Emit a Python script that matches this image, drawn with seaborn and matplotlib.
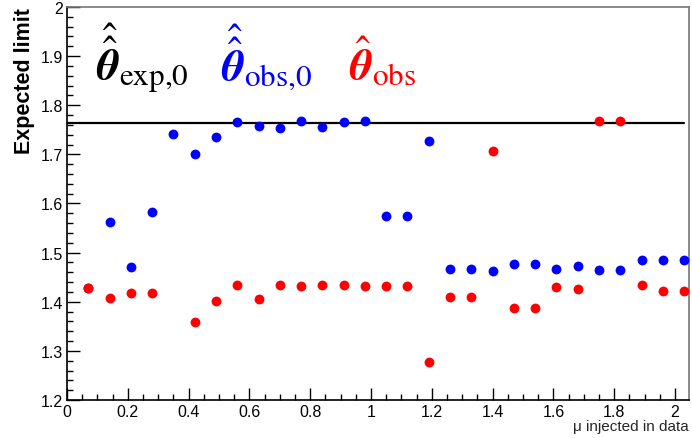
import numpy as np
import pandas as pd
import seaborn as sns
import matplotlib.pyplot as plt
from matplotlib.ticker import MultipleLocator, FuncFormatter

# mu injected in data
mu = [0.07, 0.14, 0.21, 0.28, 0.35, 0.42, 0.49, 0.56, 0.63, 0.70,
      0.77, 0.84, 0.91, 0.98, 1.05, 1.12, 1.19, 1.26, 1.33, 1.40,
      1.47, 1.54, 1.61, 1.68, 1.75, 1.82, 1.89, 1.96, 2.03]

# expected limit with theta_obs,0 (blue)
lim_obs0 = [1.429, 1.562, 1.470, 1.582, 1.742, 1.700, 1.735, 1.765, 1.757, 1.753,
            1.767, 1.755, 1.766, 1.767, 1.574, 1.574, 1.728, 1.466, 1.466, 1.463,
            1.476, 1.476, 1.466, 1.473, 1.464, 1.464, 1.484, 1.484, 1.484]

# expected limit with theta_obs (red), point 5 not shown
lim_obs = [1.429, 1.408, 1.418, 1.418, np.nan, 1.359, 1.401, 1.435, 1.406, 1.435,
           1.433, 1.435, 1.435, 1.433, 1.433, 1.433, 1.277, 1.410, 1.410, 1.707,
           1.388, 1.388, 1.431, 1.426, 1.767, 1.767, 1.435, 1.422, 1.422]

# expected limit with theta_exp,0 (constant line)
lim_exp0 = 1.764

df = pd.DataFrame({'mu': mu, 'obs0': lim_obs0, 'obs': lim_obs})

sns.set_style('ticks')
plt.rcParams['font.family'] = ['Liberation Sans', 'DejaVu Sans']
plt.rcParams['mathtext.fontset'] = 'stix'

fig = plt.figure(figsize=(6.92, 4.39), dpi=100)
ax = fig.add_axes([67 / 692, 38 / 439, 622 / 692, 393 / 439])

ax.plot([0, mu[-1]], [lim_exp0, lim_exp0], color='black', lw=1.6, zorder=2)
sns.scatterplot(data=df, x='mu', y='obs0', color='#0000ff', s=50, linewidth=0, ax=ax, zorder=3)
sns.scatterplot(data=df, x='mu', y='obs', color='#ff0000', s=50, linewidth=0, ax=ax, zorder=4)

ax.set_xlim(0, 2.046)
ax.set_ylim(1.2, 2.0)

ax.xaxis.set_major_locator(MultipleLocator(0.2))
ax.xaxis.set_minor_locator(MultipleLocator(0.05))
ax.yaxis.set_major_locator(MultipleLocator(0.1))
ax.yaxis.set_minor_locator(MultipleLocator(0.02))
fmt = FuncFormatter(lambda v, p: f'{v:g}')
ax.xaxis.set_major_formatter(fmt)
ax.yaxis.set_major_formatter(fmt)
ax.tick_params(which='both', direction='in', labelsize=11.5, colors='black', width=1)
ax.tick_params(which='major', length=9, pad=3)
ax.tick_params(which='minor', length=4.5)

for s in ['left', 'bottom']:
    ax.spines[s].set_color('black')
    ax.spines[s].set_linewidth(1.2)
for s in ['top', 'right']:
    ax.spines[s].set_visible(True)
    ax.spines[s].set_color('#777777')
    ax.spines[s].set_linewidth(1.2)

ax.set_xlabel('μ injected in data', loc='right', fontsize=11, labelpad=0)
ax.set_ylabel('Expected limit', loc='top', fontsize=15.5, fontweight='bold',
              color='black', labelpad=4)

# legend-like labels
fig.text(96 / 692, 1 - 80 / 439, r'$\hat{\hat{\mathbfit{\theta}}}_{\mathrm{exp}{,}\mathrm{0}}$',
         color='black', fontsize=32, va='baseline')
fig.text(221 / 692, 1 - 80 / 439, r'$\hat{\hat{\mathbfit{\theta}}}_{\mathrm{obs}{,}\mathrm{0}}$',
         color='#0000ff', fontsize=32, va='baseline')
fig.text(349 / 692, 1 - 80 / 439, r'$\hat{\mathbfit{\theta}}_{\mathrm{obs}}$',
         color='#ff0000', fontsize=32, va='baseline')

plt.savefig('out.png', dpi=100)
